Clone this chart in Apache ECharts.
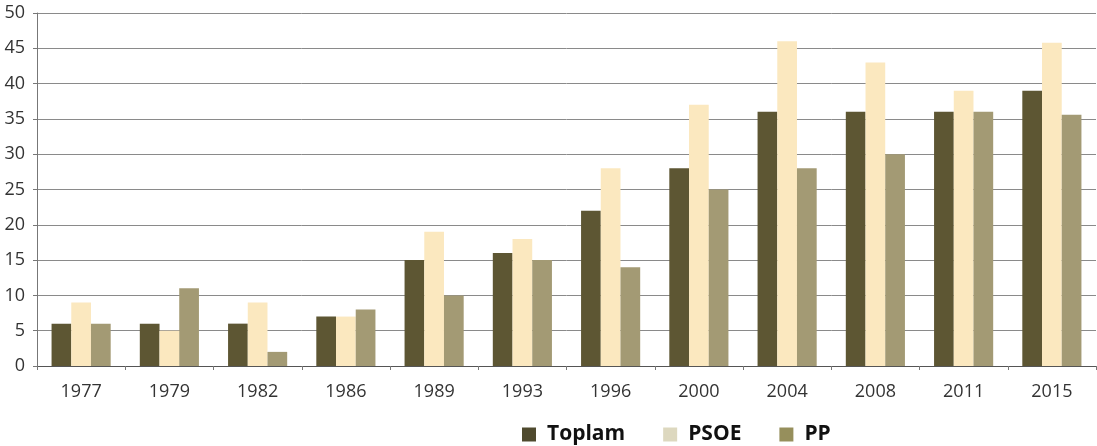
<!DOCTYPE html>
<html><head><meta charset="utf-8">
<script src="https://cdn.jsdelivr.net/npm/echarts@6/dist/echarts.min.js"></script>
<style>html,body{margin:0;padding:0;background:#fff}#c{width:1097px;height:446px}</style>
</head><body><div id="c"></div>
<script>
const years = ['1977','1979','1982','1986','1989','1993','1996','2000','2004','2008','2011','2015'];
const toplam = [6, 6, 6, 7, 15, 16, 22, 28, 36, 36, 36, 39];
const psoe = [9, 5, 9, 7, 19, 18, 28, 37, 46, 43, 39, 45.8];
const pp = [6, 11, 2, 8, 10, 15, 14, 25, 28, 30, 36, 35.6];
const seriesNames = ['Toplam', 'PSOE', 'PP'];
const barColors = ['#5d5633', '#fbe8bf', '#a39a74'];
const legendColors = ['#4f4a2e', '#ddd8bf', '#968f5c'];
const chart = echarts.init(document.getElementById('c'));
const axisFont = "'Open Sans', 'Noto Sans', sans-serif";
const legendFont = "'Open Sans', 'Noto Sans', sans-serif";
chart.setOption({
  animation: false,
  grid: {left: 37, right: 1, top: 13, bottom: 80, containLabel: false},
  legend: {
    top: 419, left: 517, itemWidth: 14, itemHeight: 14, itemGap: 38,
    icon: 'rect',
    textStyle: {fontFamily: legendFont, fontWeight: 'bold', fontSize: 21, color: '#111', padding: [0, 0, 0, 6]},
    data: seriesNames.map((n, i) => ({name: n, itemStyle: {color: legendColors[i]}}))
  },
  xAxis: {
    type: 'category', data: years,
    axisLine: {lineStyle: {color: '#555', width: 1}},
    axisTick: {show: true, length: 4, lineStyle: {color: '#777'}},
    axisLabel: {fontFamily: axisFont, fontSize: 18, color: '#333', margin: 17}
  },
  yAxis: {
    type: 'value', min: 0, max: 50, interval: 5,
    axisLine: {show: true, lineStyle: {color: '#777', width: 1}},
    axisTick: {show: true, length: 4, lineStyle: {color: '#777'}},
    splitLine: {lineStyle: {color: '#8a8a8a', width: 1}},
    axisLabel: {fontFamily: axisFont, fontSize: 18, color: '#333', margin: 12}
  },
  series: [toplam, psoe, pp].map((d, i) => ({
    name: seriesNames[i], type: 'bar', data: d,
    barGap: '0%', barCategoryGap: '33%',
    itemStyle: {color: barColors[i]}
  }))
});
</script></body></html>
